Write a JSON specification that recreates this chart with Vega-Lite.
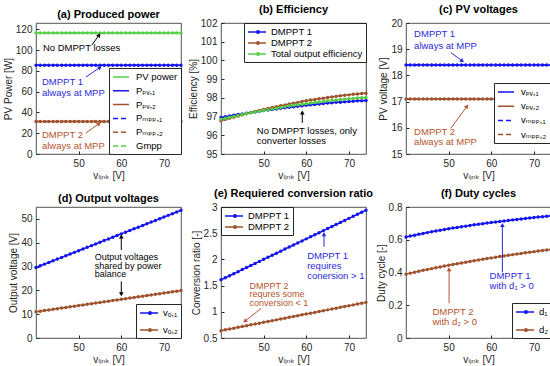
{
"$schema": "https://vega.github.io/schema/vega-lite/v6.json",
"background": "white",
"padding": {"left": 2, "top": 3, "right": 2, "bottom": 2},
"columns": 3,
"spacing": {"row": 53, "column": 40},
"bounds": "flush",
"resolve": {"scale": {"x": "independent", "y": "independent", "color": "independent", "strokeDash": "independent"}, "axis": {"x": "independent", "y": "independent"}, "legend": {"color": "independent", "strokeDash": "independent"}},
"datasets": {"main": [
{"x":40,"pv":116.5,"p1":85.3,"p2":31.2,"e1":96.95,"e2":96.78,"et":96.86,"v1":18.4,"v2":17.1,"o1":29.6,"o2":11.0,"r1":1.61,"r2":0.64,"d1":0.617,"d2":0.390},
{"x":41,"pv":116.5,"p1":85.3,"p2":31.2,"e1":96.99,"e2":96.85,"et":96.91,"v1":18.4,"v2":17.1,"o1":30.31,"o2":11.26,"r1":1.649,"r2":0.656,"d1":0.6225,"d2":0.3961},
{"x":42,"pv":116.5,"p1":85.3,"p2":31.2,"e1":97.03,"e2":96.91,"et":96.96,"v1":18.4,"v2":17.1,"o1":31.01,"o2":11.52,"r1":1.688,"r2":0.672,"d1":0.628,"d2":0.4019},
{"x":43,"pv":116.5,"p1":85.3,"p2":31.2,"e1":97.07,"e2":96.97,"et":97.01,"v1":18.4,"v2":17.1,"o1":31.72,"o2":11.79,"r1":1.727,"r2":0.688,"d1":0.6333,"d2":0.4076},
{"x":44,"pv":116.5,"p1":85.3,"p2":31.2,"e1":97.11,"e2":97.03,"et":97.06,"v1":18.4,"v2":17.1,"o1":32.42,"o2":12.05,"r1":1.766,"r2":0.704,"d1":0.6385,"d2":0.4131},
{"x":45,"pv":116.5,"p1":85.3,"p2":31.2,"e1":97.14,"e2":97.09,"et":97.11,"v1":18.4,"v2":17.1,"o1":33.13,"o2":12.31,"r1":1.806,"r2":0.719,"d1":0.6436,"d2":0.4183},
{"x":46,"pv":116.5,"p1":85.3,"p2":31.2,"e1":97.18,"e2":97.15,"et":97.15,"v1":18.4,"v2":17.1,"o1":33.84,"o2":12.57,"r1":1.845,"r2":0.735,"d1":0.6485,"d2":0.4236},
{"x":47,"pv":116.5,"p1":85.3,"p2":31.2,"e1":97.22,"e2":97.21,"et":97.20,"v1":18.4,"v2":17.1,"o1":34.54,"o2":12.83,"r1":1.884,"r2":0.751,"d1":0.6533,"d2":0.4289},
{"x":48,"pv":116.5,"p1":85.3,"p2":31.2,"e1":97.25,"e2":97.27,"et":97.24,"v1":18.4,"v2":17.1,"o1":35.25,"o2":13.10,"r1":1.923,"r2":0.767,"d1":0.6579,"d2":0.4341},
{"x":49,"pv":116.5,"p1":85.3,"p2":31.2,"e1":97.29,"e2":97.32,"et":97.29,"v1":18.4,"v2":17.1,"o1":35.95,"o2":13.36,"r1":1.962,"r2":0.783,"d1":0.6624,"d2":0.4391},
{"x":50,"pv":116.5,"p1":85.3,"p2":31.2,"e1":97.32,"e2":97.38,"et":97.33,"v1":18.4,"v2":17.1,"o1":36.66,"o2":13.62,"r1":2.001,"r2":0.799,"d1":0.6668,"d2":0.4441},
{"x":51,"pv":116.5,"p1":85.3,"p2":31.2,"e1":97.35,"e2":97.43,"et":97.37,"v1":18.4,"v2":17.1,"o1":37.37,"o2":13.88,"r1":2.040,"r2":0.815,"d1":0.6711,"d2":0.4490},
{"x":52,"pv":116.5,"p1":85.3,"p2":31.2,"e1":97.38,"e2":97.48,"et":97.41,"v1":18.4,"v2":17.1,"o1":38.07,"o2":14.14,"r1":2.079,"r2":0.831,"d1":0.6752,"d2":0.4539},
{"x":53,"pv":116.5,"p1":85.3,"p2":31.2,"e1":97.41,"e2":97.53,"et":97.45,"v1":18.4,"v2":17.1,"o1":38.78,"o2":14.41,"r1":2.118,"r2":0.846,"d1":0.6793,"d2":0.4583},
{"x":54,"pv":116.5,"p1":85.3,"p2":31.2,"e1":97.44,"e2":97.58,"et":97.49,"v1":18.4,"v2":17.1,"o1":39.48,"o2":14.67,"r1":2.157,"r2":0.862,"d1":0.6832,"d2":0.4629},
{"x":55,"pv":116.5,"p1":85.3,"p2":31.2,"e1":97.47,"e2":97.62,"et":97.52,"v1":18.4,"v2":17.1,"o1":40.19,"o2":14.93,"r1":2.197,"r2":0.878,"d1":0.6872,"d2":0.4675},
{"x":56,"pv":116.5,"p1":85.3,"p2":31.2,"e1":97.50,"e2":97.67,"et":97.56,"v1":18.4,"v2":17.1,"o1":40.90,"o2":15.19,"r1":2.236,"r2":0.894,"d1":0.6910,"d2":0.4720},
{"x":57,"pv":116.5,"p1":85.3,"p2":31.2,"e1":97.53,"e2":97.71,"et":97.60,"v1":18.4,"v2":17.1,"o1":41.60,"o2":15.45,"r1":2.275,"r2":0.910,"d1":0.6947,"d2":0.4764},
{"x":58,"pv":116.5,"p1":85.3,"p2":31.2,"e1":97.55,"e2":97.75,"et":97.63,"v1":18.4,"v2":17.1,"o1":42.31,"o2":15.72,"r1":2.314,"r2":0.926,"d1":0.6982,"d2":0.4808},
{"x":59,"pv":116.5,"p1":85.3,"p2":31.2,"e1":97.58,"e2":97.80,"et":97.66,"v1":18.4,"v2":17.1,"o1":43.01,"o2":15.98,"r1":2.353,"r2":0.942,"d1":0.7018,"d2":0.4851},
{"x":60,"pv":116.5,"p1":85.3,"p2":31.2,"e1":97.60,"e2":97.84,"et":97.69,"v1":18.4,"v2":17.1,"o1":43.72,"o2":16.24,"r1":2.392,"r2":0.958,"d1":0.7052,"d2":0.4893},
{"x":61,"pv":116.5,"p1":85.3,"p2":31.2,"e1":97.63,"e2":97.88,"et":97.72,"v1":18.4,"v2":17.1,"o1":44.43,"o2":16.50,"r1":2.431,"r2":0.973,"d1":0.7085,"d2":0.4932},
{"x":62,"pv":116.5,"p1":85.3,"p2":31.2,"e1":97.65,"e2":97.91,"et":97.75,"v1":18.4,"v2":17.1,"o1":45.13,"o2":16.76,"r1":2.470,"r2":0.989,"d1":0.7118,"d2":0.4972},
{"x":63,"pv":116.5,"p1":85.3,"p2":31.2,"e1":97.67,"e2":97.95,"et":97.78,"v1":18.4,"v2":17.1,"o1":45.84,"o2":17.03,"r1":2.509,"r2":1.005,"d1":0.7150,"d2":0.5012},
{"x":64,"pv":116.5,"p1":85.3,"p2":31.2,"e1":97.70,"e2":97.98,"et":97.81,"v1":18.4,"v2":17.1,"o1":46.54,"o2":17.29,"r1":2.548,"r2":1.021,"d1":0.7182,"d2":0.5052},
{"x":65,"pv":116.5,"p1":85.3,"p2":31.2,"e1":97.72,"e2":98.02,"et":97.84,"v1":18.4,"v2":17.1,"o1":47.25,"o2":17.55,"r1":2.588,"r2":1.037,"d1":0.7213,"d2":0.5091},
{"x":66,"pv":116.5,"p1":85.3,"p2":31.2,"e1":97.74,"e2":98.05,"et":97.86,"v1":18.4,"v2":17.1,"o1":47.96,"o2":17.81,"r1":2.627,"r2":1.053,"d1":0.7243,"d2":0.5129},
{"x":67,"pv":116.5,"p1":85.3,"p2":31.2,"e1":97.76,"e2":98.08,"et":97.89,"v1":18.4,"v2":17.1,"o1":48.66,"o2":18.07,"r1":2.666,"r2":1.069,"d1":0.7272,"d2":0.5167},
{"x":68,"pv":116.5,"p1":85.3,"p2":31.2,"e1":97.77,"e2":98.11,"et":97.91,"v1":18.4,"v2":17.1,"o1":49.37,"o2":18.34,"r1":2.705,"r2":1.085,"d1":0.7301,"d2":0.5204},
{"x":69,"pv":116.5,"p1":85.3,"p2":31.2,"e1":97.79,"e2":98.14,"et":97.93,"v1":18.4,"v2":17.1,"o1":50.07,"o2":18.60,"r1":2.744,"r2":1.101,"d1":0.7329,"d2":0.5240},
{"x":70,"pv":116.5,"p1":85.3,"p2":31.2,"e1":97.81,"e2":98.16,"et":97.95,"v1":18.4,"v2":17.1,"o1":50.78,"o2":18.86,"r1":2.783,"r2":1.116,"d1":0.7357,"d2":0.5274},
{"x":71,"pv":116.5,"p1":85.3,"p2":31.2,"e1":97.82,"e2":98.19,"et":97.97,"v1":18.4,"v2":17.1,"o1":51.49,"o2":19.12,"r1":2.822,"r2":1.132,"d1":0.7384,"d2":0.5310},
{"x":72,"pv":116.5,"p1":85.3,"p2":31.2,"e1":97.84,"e2":98.21,"et":97.99,"v1":18.4,"v2":17.1,"o1":52.19,"o2":19.38,"r1":2.861,"r2":1.148,"d1":0.7410,"d2":0.5345},
{"x":73,"pv":116.5,"p1":85.3,"p2":31.2,"e1":97.85,"e2":98.23,"et":98.01,"v1":18.4,"v2":17.1,"o1":52.90,"o2":19.65,"r1":2.900,"r2":1.164,"d1":0.7436,"d2":0.5379},
{"x":74,"pv":116.5,"p1":85.3,"p2":31.2,"e1":97.86,"e2":98.25,"et":98.02,"v1":18.4,"v2":17.1,"o1":53.60,"o2":19.91,"r1":2.939,"r2":1.180,"d1":0.7461,"d2":0.5413}
]},
"concat": [
{
 "title": "(a) Produced power",
 "width": 145, "height": 131,
 "layer": [
  {"data": {"values": [{"s":"mp1","x":40,"v":85.3},{"s":"mp1","x":74,"v":85.3},{"s":"mp2","x":40,"v":31.2},{"s":"mp2","x":74,"v":31.2},{"s":"gm","x":40,"v":116.5},{"s":"gm","x":74,"v":116.5}]},
   "mark": {"type": "line", "strokeWidth": 1.5},
   "encoding": {
    "x": {"field": "x", "type": "quantitative", "scale": {"domain": [40, 74], "nice": false, "zero": false}, "axis": {"values": [50, 60, 70], "tickCount": 20, "format": "d", "title": "vₗᵢₙₖ [V]"}},
    "y": {"field": "v", "type": "quantitative", "scale": {"domain": [0, 126], "nice": false}, "axis": {"values": [0,20,40,60,80,100,120], "tickCount": 20, "format": "d", "title": "PV Power [W]"}},
    "color": {"field": "s", "type": "nominal", "scale": {"domain": ["pv","p1","p2","mp1","mp2","gm"], "range": ["#55cf45","#1414f0","#a0522d","#1414f0","#a0522d","#55cf45"]}, "legend": {"orient": "bottom-right", "title": null, "rowPadding": 2.8, "symbolType": "M-1,0H2.2", "labelExpr": "{'pv':'PV power','p1':'Pₚᵥ,₁','p2':'Pₚᵥ,₂','mp1':'Pₘₚₚ,₁','mp2':'Pₘₚₚ,₂','gm':'Gmpp'}[datum.label]"}},
    "strokeDash": {"field": "s", "type": "nominal", "scale": {"domain": ["pv","p1","p2","mp1","mp2","gm"], "range": [[1,0],[1,0],[1,0],[5,3],[5,3],[5,3]]}, "legend": {"orient": "bottom-right", "title": null, "rowPadding": 2.8, "symbolType": "M-1,0H2.2", "labelExpr": "{'pv':'PV power','p1':'Pₚᵥ,₁','p2':'Pₚᵥ,₂','mp1':'Pₘₚₚ,₁','mp2':'Pₘₚₚ,₂','gm':'Gmpp'}[datum.label]"}}
   }},
  {"data": {"name": "main"}, "transform": [{"fold": ["pv","p1","p2"], "as": ["s","v"]}],
   "mark": {"type": "line", "strokeWidth": 1.5, "point": {"filled": true, "size": 12}},
   "encoding": {
    "x": {"field": "x", "type": "quantitative"},
    "y": {"field": "v", "type": "quantitative"},
    "color": {"field": "s", "type": "nominal"},
    "strokeDash": {"field": "s", "type": "nominal"}
   }},
  {"data": {"values": [{"x": 50.7, "v": 102, "t": "No DMPPT losses"}]},
   "mark": {"type": "text", "align": "center", "baseline": "middle", "fontSize": 9.5, "color": "#000000"},
   "encoding": {"x": {"field": "x", "type": "quantitative"}, "y": {"field": "v", "type": "quantitative"}, "text": {"field": "t"}}},
  {"data": {"values": [{"x": 41.4, "v": 69.2, "t": "DMPPT 1\nalways at MPP"}]},
   "mark": {"type": "text", "align": "left", "baseline": "middle", "fontSize": 9.5, "color": "#2a2ad8", "lineBreak": "\n", "lineHeight": 11},
   "encoding": {"x": {"field": "x", "type": "quantitative"}, "y": {"field": "v", "type": "quantitative"}, "text": {"field": "t"}}},
  {"data": {"values": [{"x": 41.4, "v": 18.3, "t": "DMPPT 2\nalways at MPP"}]},
   "mark": {"type": "text", "align": "left", "baseline": "middle", "fontSize": 9.5, "color": "#b5532e", "lineBreak": "\n", "lineHeight": 11},
   "encoding": {"x": {"field": "x", "type": "quantitative"}, "y": {"field": "v", "type": "quantitative"}, "text": {"field": "t"}}},
  {"data": {"values": [{"x": 53.1, "v": 104.8, "x2": 54.8, "v2": 114.5}]},
   "layer": [
    {"mark": {"type": "rule", "color": "#000000", "strokeWidth": 1}, "encoding": {"x": {"field": "x", "type": "quantitative"}, "y": {"field": "v", "type": "quantitative"}, "x2": {"field": "x2"}, "y2": {"field": "v2"}}},
    {"mark": {"type": "point", "shape": "triangle-up", "angle": 32, "filled": true, "size": 22, "color": "#000000", "opacity": 1}, "encoding": {"x": {"field": "x2", "type": "quantitative"}, "y": {"field": "v2", "type": "quantitative"}}}
   ]},
  {"data": {"values": [{"x": 51.7, "v": 74, "x2": 55, "v2": 83.2}]},
   "layer": [
    {"mark": {"type": "rule", "color": "#2a2ad8", "strokeWidth": 1}, "encoding": {"x": {"field": "x", "type": "quantitative"}, "y": {"field": "v", "type": "quantitative"}, "x2": {"field": "x2"}, "y2": {"field": "v2"}}},
    {"mark": {"type": "point", "shape": "triangle-up", "angle": 54, "filled": true, "size": 22, "color": "#2a2ad8", "opacity": 1}, "encoding": {"x": {"field": "x2", "type": "quantitative"}, "y": {"field": "v2", "type": "quantitative"}}}
   ]},
  {"data": {"values": [{"x": 51.7, "v": 20.2, "x2": 54.8, "v2": 29.3}]},
   "layer": [
    {"mark": {"type": "rule", "color": "#b5532e", "strokeWidth": 1}, "encoding": {"x": {"field": "x", "type": "quantitative"}, "y": {"field": "v", "type": "quantitative"}, "x2": {"field": "x2"}, "y2": {"field": "v2"}}},
    {"mark": {"type": "point", "shape": "triangle-up", "angle": 52, "filled": true, "size": 22, "color": "#b5532e", "opacity": 1}, "encoding": {"x": {"field": "x2", "type": "quantitative"}, "y": {"field": "v2", "type": "quantitative"}}}
   ]}
 ]
},
{
 "title": "(b) Efficiency",
 "width": 145, "height": 131,
 "layer": [
  {"data": {"name": "main"}, "transform": [{"fold": ["e1","e2","et"], "as": ["s","v"]}],
   "mark": {"type": "line", "strokeWidth": 1.5, "point": {"filled": true, "size": 12}},
   "encoding": {
    "x": {"field": "x", "type": "quantitative", "scale": {"domain": [40, 74], "nice": false, "zero": false}, "axis": {"values": [50, 60, 70], "tickCount": 20, "format": "d", "title": "vₗᵢₙₖ [V]"}},
    "y": {"field": "v", "type": "quantitative", "scale": {"domain": [95, 102], "nice": false, "zero": false}, "axis": {"values": [95,96,97,98,99,100,101,102], "tickCount": 20, "format": "d", "title": "Efficiency [%]"}},
    "color": {"field": "s", "type": "nominal", "scale": {"domain": ["e1","e2","et"], "range": ["#1414f0","#a0522d","#55cf45"]}, "legend": {"orient": "top-right", "title": null, "rowPadding": 0, "labelExpr": "{'e1':'DMPPT 1','e2':'DMPPT 2','et':'Total output efficiency'}[datum.label]"}}
   }},
  {"mark": {"type": "rule", "color": "#000000", "strokeWidth": 1.5, "strokeDash": [6, 4]}, "encoding": {"y": {"datum": 100}}},
  {"data": {"values": [{"x": 48.4, "v": 96.23, "t": "No DMPPT losses, only\nconverter losses"}]},
   "mark": {"type": "text", "align": "left", "baseline": "middle", "fontSize": 9.5, "color": "#000000", "lineBreak": "\n", "lineHeight": 10},
   "encoding": {"x": {"field": "x", "type": "quantitative"}, "y": {"field": "v", "type": "quantitative"}, "text": {"field": "t"}}},
  {"data": {"values": [{"x": 59.06, "v": 96.66, "x2": 59.06, "v2": 97.22}]},
   "layer": [
    {"mark": {"type": "rule", "color": "#000000", "strokeWidth": 1}, "encoding": {"x": {"field": "x", "type": "quantitative"}, "y": {"field": "v", "type": "quantitative"}, "x2": {"field": "x2"}, "y2": {"field": "v2"}}},
    {"mark": {"type": "point", "shape": "triangle-up", "angle": 0, "filled": true, "size": 22, "color": "#000000", "opacity": 1}, "encoding": {"x": {"field": "x2", "type": "quantitative"}, "y": {"field": "v2", "type": "quantitative"}}}
   ]}
 ]
},
{
 "title": "(c) PV voltages",
 "width": 145, "height": 131,
 "layer": [
  {"data": {"values": [{"s":"mv1","x":40,"v":18.4},{"s":"mv1","x":74,"v":18.4},{"s":"mv2","x":40,"v":17.1},{"s":"mv2","x":74,"v":17.1}]},
   "mark": {"type": "line", "strokeWidth": 1.5},
   "encoding": {
    "x": {"field": "x", "type": "quantitative", "scale": {"domain": [40, 74], "nice": false, "zero": false}, "axis": {"values": [50, 60, 70], "tickCount": 20, "format": "d", "title": "vₗᵢₙₖ [V]"}},
    "y": {"field": "v", "type": "quantitative", "scale": {"domain": [15, 20], "nice": false, "zero": false}, "axis": {"values": [15,16,17,18,19,20], "tickCount": 20, "format": "d", "title": "PV voltage [V]"}},
    "color": {"field": "s", "type": "nominal", "scale": {"domain": ["v1","v2","mv1","mv2"], "range": ["#1414f0","#a0522d","#1414f0","#a0522d"]}, "legend": {"orient": "none", "legendX": 88, "legendY": 60, "title": null, "rowPadding": 3.2, "symbolType": "M-1,0H2.2", "labelExpr": "{'v1':'vₚᵥ,₁','v2':'vₚᵥ,₂','mv1':'vₘₚₚ,₁','mv2':'vₘₚₚ,₂'}[datum.label]"}},
    "strokeDash": {"field": "s", "type": "nominal", "scale": {"domain": ["v1","v2","mv1","mv2"], "range": [[1,0],[1,0],[5,3],[5,3]]}, "legend": {"orient": "none", "legendX": 88, "legendY": 60, "title": null, "rowPadding": 3.2, "symbolType": "M-1,0H2.2", "labelExpr": "{'v1':'vₚᵥ,₁','v2':'vₚᵥ,₂','mv1':'vₘₚₚ,₁','mv2':'vₘₚₚ,₂'}[datum.label]"}}
   }},
  {"data": {"name": "main"}, "transform": [{"fold": ["v1","v2"], "as": ["s","v"]}],
   "mark": {"type": "line", "strokeWidth": 1.5, "point": {"filled": true, "size": 12}},
   "encoding": {
    "x": {"field": "x", "type": "quantitative"},
    "y": {"field": "v", "type": "quantitative"},
    "color": {"field": "s", "type": "nominal"},
    "strokeDash": {"field": "s", "type": "nominal"}
   }},
  {"data": {"values": [{"x": 41.9, "v": 19.57, "t": "DMPPT 1\nalways at MPP"}]},
   "mark": {"type": "text", "align": "left", "baseline": "middle", "fontSize": 9.5, "color": "#2a2ad8", "lineBreak": "\n", "lineHeight": 11.5},
   "encoding": {"x": {"field": "x", "type": "quantitative"}, "y": {"field": "v", "type": "quantitative"}, "text": {"field": "t"}}},
  {"data": {"values": [{"x": 41.9, "v": 15.85, "t": "DMPPT 2\nalways at MPP"}]},
   "mark": {"type": "text", "align": "left", "baseline": "middle", "fontSize": 9.5, "color": "#b5532e", "lineBreak": "\n", "lineHeight": 10},
   "encoding": {"x": {"field": "x", "type": "quantitative"}, "y": {"field": "v", "type": "quantitative"}, "text": {"field": "t"}}},
  {"data": {"values": [{"x": 50.5, "v": 18.87, "x2": 53.2, "v2": 18.55}]},
   "layer": [
    {"mark": {"type": "rule", "color": "#2a2ad8", "strokeWidth": 1}, "encoding": {"x": {"field": "x", "type": "quantitative"}, "y": {"field": "v", "type": "quantitative"}, "x2": {"field": "x2"}, "y2": {"field": "v2"}}},
    {"mark": {"type": "point", "shape": "triangle-up", "angle": 125, "filled": true, "size": 22, "color": "#2a2ad8", "opacity": 1}, "encoding": {"x": {"field": "x2", "type": "quantitative"}, "y": {"field": "v2", "type": "quantitative"}}}
   ]},
  {"data": {"values": [{"x": 50.5, "v": 15.98, "x2": 54.3, "v2": 16.82}]},
   "layer": [
    {"mark": {"type": "rule", "color": "#b5532e", "strokeWidth": 1}, "encoding": {"x": {"field": "x", "type": "quantitative"}, "y": {"field": "v", "type": "quantitative"}, "x2": {"field": "x2"}, "y2": {"field": "v2"}}},
    {"mark": {"type": "point", "shape": "triangle-up", "angle": 37, "filled": true, "size": 22, "color": "#b5532e", "opacity": 1}, "encoding": {"x": {"field": "x2", "type": "quantitative"}, "y": {"field": "v2", "type": "quantitative"}}}
   ]}
 ]
},
{
 "title": "(d) Output voltages",
 "width": 145, "height": 131,
 "layer": [
  {"data": {"name": "main"}, "transform": [{"fold": ["o1","o2"], "as": ["s","v"]}],
   "mark": {"type": "line", "strokeWidth": 1.5, "point": {"filled": true, "size": 12}},
   "encoding": {
    "x": {"field": "x", "type": "quantitative", "scale": {"domain": [40, 74], "nice": false, "zero": false}, "axis": {"values": [50, 60, 70], "tickCount": 20, "format": "d", "title": "vₗᵢₙₖ [V]"}},
    "y": {"field": "v", "type": "quantitative", "scale": {"domain": [0, 55], "nice": false}, "axis": {"values": [0,10,20,30,40,50], "tickCount": 20, "format": "d", "title": "Output voltage [V]"}},
    "color": {"field": "s", "type": "nominal", "scale": {"domain": ["o1","o2"], "range": ["#1414f0","#a0522d"]}, "legend": {"orient": "bottom-right", "title": null, "rowPadding": 6, "labelExpr": "{'o1':'vₒ,₁','o2':'vₒ,₂'}[datum.label]"}}
   }},
  {"data": {"values": [{"x": 53.8, "v": 33.9, "t": "Output voltages\nshared by power\nbalance"}]},
   "mark": {"type": "text", "align": "left", "baseline": "middle", "fontSize": 9, "color": "#000000", "lineBreak": "\n", "lineHeight": 8.5},
   "encoding": {"x": {"field": "x", "type": "quantitative"}, "y": {"field": "v", "type": "quantitative"}, "text": {"field": "t"}}},
  {"data": {"values": [{"x": 60, "v": 36.9, "x2": 60, "v2": 42.6}, {"x": 60, "v": 23.8, "x2": 60, "v2": 18.4}]},
   "mark": {"type": "rule", "color": "#000000", "strokeWidth": 1}, "encoding": {"x": {"field": "x", "type": "quantitative"}, "y": {"field": "v", "type": "quantitative"}, "x2": {"field": "x2"}, "y2": {"field": "v2"}}},
  {"data": {"values": [{"x": 60, "v": 42.6}]},
   "mark": {"type": "point", "shape": "triangle-up", "angle": 0, "filled": true, "size": 22, "color": "#000000", "opacity": 1}, "encoding": {"x": {"field": "x", "type": "quantitative"}, "y": {"field": "v", "type": "quantitative"}}},
  {"data": {"values": [{"x": 60, "v": 18.4}]},
   "mark": {"type": "point", "shape": "triangle-down", "angle": 0, "filled": true, "size": 22, "color": "#000000", "opacity": 1}, "encoding": {"x": {"field": "x", "type": "quantitative"}, "y": {"field": "v", "type": "quantitative"}}}
 ]
},
{
 "title": "(e) Requiered conversion ratio",
 "width": 145, "height": 131,
 "layer": [
  {"data": {"name": "main"}, "transform": [{"fold": ["r1","r2"], "as": ["s","v"]}],
   "mark": {"type": "line", "strokeWidth": 1.5, "point": {"filled": true, "size": 12}},
   "encoding": {
    "x": {"field": "x", "type": "quantitative", "scale": {"domain": [40, 74], "nice": false, "zero": false}, "axis": {"values": [50, 60, 70], "tickCount": 20, "format": "d", "title": "vₗᵢₙₖ [V]"}},
    "y": {"field": "v", "type": "quantitative", "scale": {"domain": [0.5, 3], "nice": false, "zero": false}, "axis": {"values": [0.5,1,1.5,2,2.5,3], "tickCount": 20, "format": ".1~f", "title": "Conversion ratio [-]"}},
    "color": {"field": "s", "type": "nominal", "scale": {"domain": ["r1","r2"], "range": ["#1414f0","#a0522d"]}, "legend": {"orient": "top-left", "title": null, "rowPadding": 0, "labelExpr": "{'r1':'DMPPT 1','r2':'DMPPT 2'}[datum.label]"}}
   }},
  {"mark": {"type": "rule", "color": "#000000", "strokeWidth": 1.5, "strokeDash": [6, 4]}, "encoding": {"y": {"datum": 1}}},
  {"data": {"values": [{"x": 60.2, "v": 2.065, "t": "DMPPT 1\nrequires\nconersion > 1"}]},
   "mark": {"type": "text", "align": "left", "baseline": "middle", "fontSize": 9.5, "color": "#2a2ad8", "lineBreak": "\n", "lineHeight": 10},
   "encoding": {"x": {"field": "x", "type": "quantitative"}, "y": {"field": "v", "type": "quantitative"}, "text": {"field": "t"}}},
  {"data": {"values": [{"x": 46.7, "v": 1.5, "t": "DMPPT 2\nrequres some\nconversion < 1"}]},
   "mark": {"type": "text", "align": "left", "baseline": "middle", "fontSize": 9, "color": "#b5532e", "lineBreak": "\n", "lineHeight": 8.5},
   "encoding": {"x": {"field": "x", "type": "quantitative"}, "y": {"field": "v", "type": "quantitative"}, "text": {"field": "t"}}},
  {"data": {"values": [{"x": 64.15, "v": 2.24, "x2": 64.15, "v2": 2.48}]},
   "layer": [
    {"mark": {"type": "rule", "color": "#2a2ad8", "strokeWidth": 1}, "encoding": {"x": {"field": "x", "type": "quantitative"}, "y": {"field": "v", "type": "quantitative"}, "x2": {"field": "x2"}, "y2": {"field": "v2"}}},
    {"mark": {"type": "point", "shape": "triangle-up", "angle": 0, "filled": true, "size": 22, "color": "#2a2ad8", "opacity": 1}, "encoding": {"x": {"field": "x2", "type": "quantitative"}, "y": {"field": "v2", "type": "quantitative"}}}
   ]},
  {"data": {"values": [{"x": 49.45, "v": 1.067, "x2": 45.6, "v2": 0.82}]},
   "layer": [
    {"mark": {"type": "rule", "color": "#b5532e", "strokeWidth": 1}, "encoding": {"x": {"field": "x", "type": "quantitative"}, "y": {"field": "v", "type": "quantitative"}, "x2": {"field": "x2"}, "y2": {"field": "v2"}}},
    {"mark": {"type": "point", "shape": "triangle-up", "angle": 231, "filled": true, "size": 22, "color": "#b5532e", "opacity": 1}, "encoding": {"x": {"field": "x2", "type": "quantitative"}, "y": {"field": "v2", "type": "quantitative"}}}
   ]}
 ]
},
{
 "title": "(f) Duty cycles",
 "width": 145, "height": 131,
 "layer": [
  {"data": {"name": "main"}, "transform": [{"fold": ["d1","d2"], "as": ["s","v"]}],
   "mark": {"type": "line", "strokeWidth": 1.5, "point": {"filled": true, "size": 12}},
   "encoding": {
    "x": {"field": "x", "type": "quantitative", "scale": {"domain": [40, 74], "nice": false, "zero": false}, "axis": {"values": [50, 60, 70], "tickCount": 20, "format": "d", "title": "vₗᵢₙₖ [V]"}},
    "y": {"field": "v", "type": "quantitative", "scale": {"domain": [0, 0.8], "nice": false}, "axis": {"values": [0,0.2,0.4,0.6,0.8], "tickCount": 20, "format": ".1~f", "title": "Duty cycle [-]"}},
    "color": {"field": "s", "type": "nominal", "scale": {"domain": ["d1","d2"], "range": ["#1414f0","#a0522d"]}, "legend": {"orient": "bottom-right", "title": null, "rowPadding": 7, "labelExpr": "{'d1':'d₁','d2':'d₂'}[datum.label]"}}
   }},
  {"data": {"values": [{"x": 59.6, "v": 0.38, "t": "DMPPT 1\nwith d₁ > 0"}]},
   "mark": {"type": "text", "align": "left", "baseline": "middle", "fontSize": 9.5, "color": "#2a2ad8", "lineBreak": "\n", "lineHeight": 10},
   "encoding": {"x": {"field": "x", "type": "quantitative"}, "y": {"field": "v", "type": "quantitative"}, "text": {"field": "t"}}},
  {"data": {"values": [{"x": 46.2, "v": 0.161, "t": "DMPPT 2\nwith d₂ > 0"}]},
   "mark": {"type": "text", "align": "left", "baseline": "middle", "fontSize": 9.5, "color": "#b5532e", "lineBreak": "\n", "lineHeight": 10},
   "encoding": {"x": {"field": "x", "type": "quantitative"}, "y": {"field": "v", "type": "quantitative"}, "text": {"field": "t"}}},
  {"data": {"values": [{"x": 62.6, "v": 0.401, "x2": 62.6, "v2": 0.69}]},
   "layer": [
    {"mark": {"type": "rule", "color": "#2a2ad8", "strokeWidth": 1}, "encoding": {"x": {"field": "x", "type": "quantitative"}, "y": {"field": "v", "type": "quantitative"}, "x2": {"field": "x2"}, "y2": {"field": "v2"}}},
    {"mark": {"type": "point", "shape": "triangle-up", "angle": 0, "filled": true, "size": 22, "color": "#2a2ad8", "opacity": 1}, "encoding": {"x": {"field": "x2", "type": "quantitative"}, "y": {"field": "v2", "type": "quantitative"}}}
   ]},
  {"data": {"values": [{"x": 50.1, "v": 0.212, "x2": 50.1, "v2": 0.42}]},
   "layer": [
    {"mark": {"type": "rule", "color": "#b5532e", "strokeWidth": 1}, "encoding": {"x": {"field": "x", "type": "quantitative"}, "y": {"field": "v", "type": "quantitative"}, "x2": {"field": "x2"}, "y2": {"field": "v2"}}},
    {"mark": {"type": "point", "shape": "triangle-up", "angle": 0, "filled": true, "size": 22, "color": "#b5532e", "opacity": 1}, "encoding": {"x": {"field": "x2", "type": "quantitative"}, "y": {"field": "v2", "type": "quantitative"}}}
   ]}
 ]
}
],
"config": {
 "font": "Liberation Sans",
 "view": {"stroke": "#262626", "strokeWidth": 0.8},
 "axis": {"grid": false, "domain": false, "labelOverlap": false, "labelFlush": false, "tickColor": "#262626", "tickSize": -3, "labelPadding": 7, "labelFontSize": 10, "labelColor": "#262626", "labelFont": "Liberation Sans", "titleFontSize": 10, "titleFontWeight": "normal", "titleColor": "#262626", "titleFont": "Liberation Sans, DejaVu Sans", "titlePadding": 2},
 "title": {"fontSize": 11, "fontWeight": "bold", "offset": 3, "color": "#000000", "font": "Liberation Sans"},
 "legend": {"fillColor": "white", "strokeColor": "#262626", "padding": 3, "offset": 0, "labelFontSize": 9.5, "labelColor": "#000000", "labelFont": "Liberation Sans, DejaVu Sans", "symbolType": "M-1,0H2.6M0.76,0A0.24,0.24,0,1,0,1.24,0A0.24,0.24,0,1,0,0.76,0", "symbolStrokeWidth": 1.5, "symbolSize": 100, "labelOffset": 12, "labelLimit": 200}
}
}
